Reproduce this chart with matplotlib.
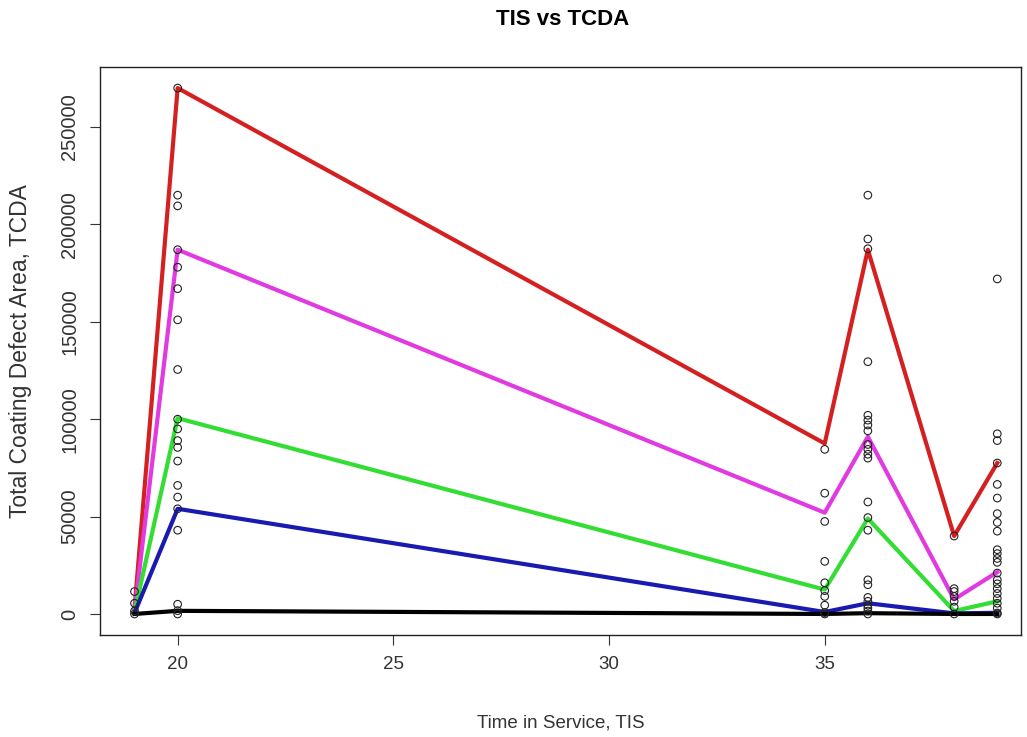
import matplotlib
matplotlib.use("Agg")
import matplotlib.pyplot as plt
import numpy as np

plt.rcParams['font.family'] = ['Liberation Sans', 'DejaVu Sans']

# Observed total coating defect area by time in service
tis_19 = [11500, 5500, 1500, 0]
tis_20 = [270000, 215000, 209500, 187000, 178000, 167000, 151000, 125500,
          100000, 95000, 89000, 85500, 78500, 66000, 60000, 54000, 43000,
          5000, 1700, 0]
tis_35 = [84500, 62000, 47500, 27000, 16000, 12000, 9000, 4500, 700, 0]
tis_36 = [215000, 192500, 187500, 129500, 102000, 99500, 97000, 94000,
          87000, 84500, 82000, 80000, 57500, 49500, 43000, 17500, 15000,
          8500, 6500, 4500, 3000, 1500, 0]
tis_38 = [40000, 13000, 11500, 9000, 6500, 3500, 0]
tis_39 = [172000, 92500, 89000, 77500, 66500, 59500, 51500, 47000, 42500,
          33000, 31000, 28500, 26500, 21000, 17500, 15500, 13000, 10500,
          8000, 5500, 3000, 500, 0]

groups = {19: tis_19, 20: tis_20, 35: tis_35, 36: tis_36, 38: tis_38, 39: tis_39}

# Summary curves per service time
line_x = [19, 20, 35, 36, 38, 39]
red_line = [2500, 270000, 87500, 187000, 40000, 77500]
magenta_line = [1500, 187000, 52000, 91000, 7500, 21500]
green_line = [1000, 100500, 12500, 49000, 1500, 6500]
blue_line = [500, 54000, 1000, 5500, 300, 600]
black_line = [0, 1600, 0, 400, 0, 0]

x_ticks = [20, 25, 30, 35]
y_ticks = [0, 50000, 100000, 150000, 200000, 250000]

fig = plt.figure(figsize=(10.27, 7.37), dpi=100)
ax = fig.add_axes([100 / 1027, 102 / 737, 921 / 1027, 568 / 737])

for x, vals in groups.items():
    ax.scatter([x] * len(vals), vals, s=30, facecolors='none',
               edgecolors='#222222', linewidths=0.8, zorder=3)

ax.plot(line_x, red_line, color='#d42020', lw=3, zorder=2)
ax.plot(line_x, magenta_line, color='#e03ae0', lw=3, zorder=2)
ax.plot(line_x, green_line, color='#33dd33', lw=3, zorder=2)
ax.plot(line_x, blue_line, color='#1a1ab0', lw=3, zorder=2)
ax.plot(line_x, black_line, color='black', lw=3, zorder=2)

ax.set_xlim(18.2, 39.55)
ax.set_ylim(-10800, 280800)
ax.set_xticks(x_ticks)
ax.set_xticklabels([str(t) for t in x_ticks])
ax.set_yticks(y_ticks)
ax.set_yticklabels([str(t) for t in y_ticks], rotation=90, va='center')
ax.tick_params(axis='x', length=7, width=0.8, labelsize=13.5,
               colors='#333333', pad=8)
ax.tick_params(axis='y', length=7, width=0.8, labelsize=14.5,
               colors='#333333', pad=8)
for sp in ax.spines.values():
    sp.set_linewidth(1.0)
    sp.set_color('#222222')

ax.set_xlabel('Time in Service, TIS', fontsize=13.5, color='#333333', labelpad=30)
ax.set_ylabel('Total Coating Defect Area, TCDA', fontsize=16.5, color='#333333',
              labelpad=20)
fig.text(0.548, 0.988, 'TIS vs TCDA', ha='center', va='top',
         fontsize=16, fontweight='bold')

fig.savefig('out.png', dpi=100)
